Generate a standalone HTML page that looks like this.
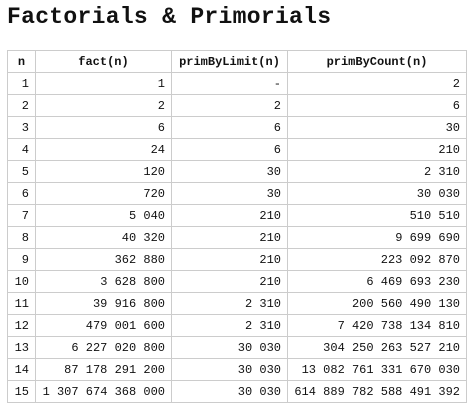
<!DOCTYPE html>
<html><head><meta charset="utf-8"><style>
body{margin:0;background:#fff;width:474px;height:414px;overflow:hidden;font-family:"Liberation Mono","DejaVu Sans Mono",monospace;color:#111}
h1{position:absolute;left:7px;top:4px;margin:0;font-size:23px;font-weight:bold;letter-spacing:0.3px}
table{position:absolute;left:7px;top:50px;border-collapse:collapse;font-size:12px}
td,th{border:1px solid #ccc;height:21px;padding:0 6px;text-align:right;white-space:pre}
th{text-align:center;font-weight:bold}
</style></head><body>
<h1>Factorials &amp; Primorials</h1>
<table>
<colgroup><col style="width:28px"><col style="width:136px"><col style="width:116px"><col style="width:179px"></colgroup>
<thead><tr><th>n</th><th>fact(n)</th><th>primByLimit(n)</th><th>primByCount(n)</th></tr></thead>
<tbody id="tb"></tbody></table>
<script>
const ns=[1,2,3,4,5,6,7,8,9,10,11,12,13,14,15];
const facts=["1","2","6","24","120","720","5 040","40 320","362 880","3 628 800","39 916 800","479 001 600","6 227 020 800","87 178 291 200","1 307 674 368 000"];
const byLimit=["-","2","6","6","30","30","210","210","210","210","2 310","2 310","30 030","30 030","30 030"];
const byCount=["2","6","30","210","2 310","30 030","510 510","9 699 690","223 092 870","6 469 693 230","200 560 490 130","7 420 738 134 810","304 250 263 527 210","13 082 761 331 670 030","614 889 782 588 491 392"];
const tb=document.getElementById('tb');
ns.forEach((n,i)=>{
const tr=document.createElement('tr');


[String(n),facts[i],byLimit[i],byCount[i]].forEach(v=>{const td=document.createElement('td');td.textContent=v;tr.appendChild(td);});
tb.appendChild(tr);
});
</script>
</body></html>
